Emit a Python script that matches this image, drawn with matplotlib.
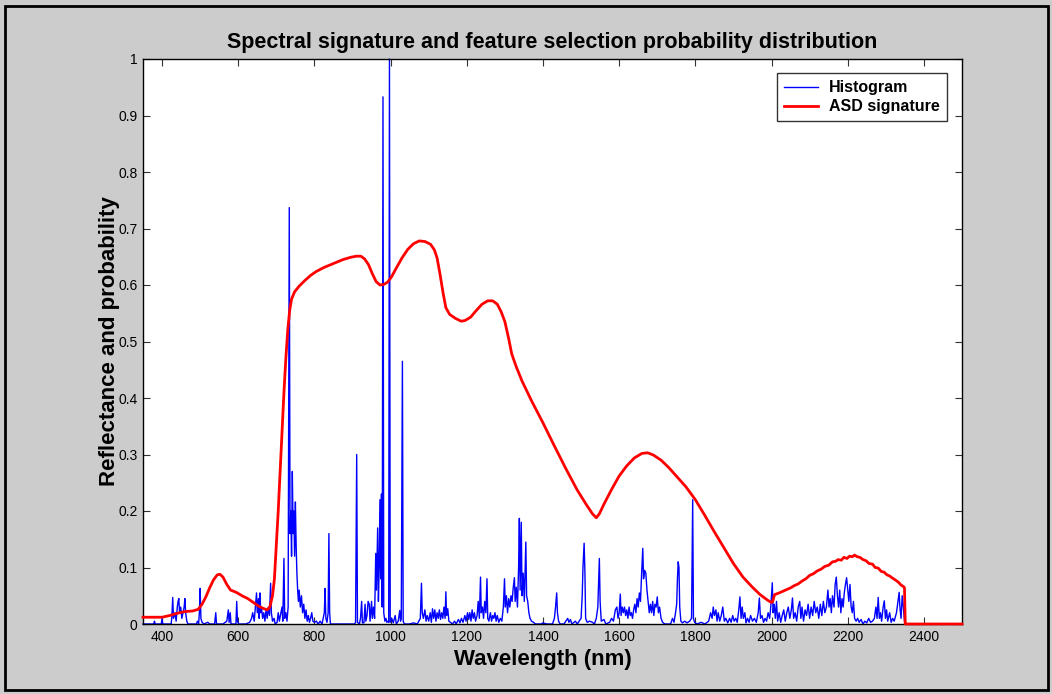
import matplotlib
matplotlib.use("Agg")
import matplotlib.pyplot as plt
from matplotlib.patches import Rectangle

plt.rcParams['font.family'] = ['Liberation Sans', 'DejaVu Sans']

# ---------------- data ----------------
title = "Spectral signature and feature selection probability distribution"
xlabel = "Wavelength (nm)"
ylabel = "Reflectance and probability"
legend_labels = ["Histogram", "ASD signature"]
xticks = [400, 600, 800, 1000, 1200, 1400, 1600, 1800, 2000, 2200, 2400]
yticks = [0, 0.1, 0.2, 0.3, 0.4, 0.5, 0.6, 0.7, 0.8, 0.9, 1]
ytick_labels = ["0", "0.1", "0.2", "0.3", "0.4", "0.5", "0.6", "0.7", "0.8", "0.9", "1"]

# ASD reflectance signature (wavelength nm, reflectance)
asd_points = [
    (350, 0.012), (380, 0.012), (400, 0.012), (420, 0.015), (440, 0.019), (460, 0.022),
    (480, 0.023), (495, 0.026), (505, 0.035), (515, 0.048), (525, 0.064), (535, 0.078),
    (545, 0.087), (552, 0.088), (560, 0.083), (570, 0.070), (580, 0.060), (595, 0.056),
    (610, 0.050), (625, 0.045), (640, 0.038), (655, 0.031), (668, 0.027), (676, 0.025),
    (683, 0.030), (690, 0.050), (695, 0.080), (700, 0.140), (705, 0.200), (710, 0.270),
    (715, 0.340), (720, 0.410), (725, 0.470), (730, 0.520), (735, 0.555), (740, 0.575),
    (748, 0.588), (760, 0.598), (775, 0.608), (790, 0.617), (805, 0.624), (825, 0.631),
    (850, 0.638), (875, 0.645), (895, 0.649), (910, 0.651), (922, 0.651), (932, 0.646),
    (942, 0.636), (952, 0.620), (962, 0.606), (972, 0.600), (982, 0.601), (992, 0.605),
    (1002, 0.614), (1015, 0.630), (1030, 0.648), (1045, 0.663), (1060, 0.673),
    (1075, 0.678), (1090, 0.677), (1105, 0.672), (1115, 0.662), (1122, 0.648),
    (1130, 0.618), (1138, 0.585), (1145, 0.560), (1155, 0.548), (1170, 0.541),
    (1185, 0.536), (1195, 0.537), (1210, 0.543), (1225, 0.555), (1240, 0.566),
    (1255, 0.572), (1268, 0.572), (1280, 0.566), (1290, 0.553), (1300, 0.535),
    (1310, 0.505), (1318, 0.478), (1330, 0.455), (1345, 0.430), (1370, 0.395),
    (1400, 0.356), (1430, 0.315), (1460, 0.275), (1490, 0.237), (1515, 0.210),
    (1530, 0.195), (1540, 0.188), (1548, 0.195), (1560, 0.212), (1580, 0.238),
    (1600, 0.262), (1620, 0.280), (1640, 0.294), (1660, 0.302), (1675, 0.303),
    (1690, 0.299), (1710, 0.290), (1730, 0.277), (1750, 0.262), (1775, 0.243),
    (1800, 0.220), (1825, 0.192), (1850, 0.163), (1875, 0.135), (1900, 0.107),
    (1925, 0.083), (1950, 0.065), (1970, 0.052), (1990, 0.042), (2000, 0.038),
    (2003, 0.040), (2008, 0.052), (2020, 0.055), (2030, 0.058), (2040, 0.061),
    (2050, 0.064), (2060, 0.068), (2070, 0.071), (2080, 0.076), (2090, 0.080),
    (2100, 0.086), (2110, 0.089), (2120, 0.094), (2130, 0.097), (2140, 0.102),
    (2150, 0.104), (2160, 0.110), (2168, 0.111), (2175, 0.114), (2183, 0.113),
    (2190, 0.118), (2198, 0.116), (2205, 0.120), (2212, 0.119), (2218, 0.122),
    (2225, 0.119), (2232, 0.118), (2240, 0.114), (2248, 0.112), (2256, 0.107),
    (2265, 0.106), (2272, 0.100), (2280, 0.099), (2288, 0.093), (2295, 0.092),
    (2303, 0.087), (2310, 0.085), (2318, 0.081), (2325, 0.078), (2333, 0.074),
    (2340, 0.069), (2347, 0.066), (2349, 0.064), (2351, 0.0), (2500, 0.0),
]

# Feature selection probability histogram (wavelength nm, probability)
hist_points = [
    (350, 0), (378, 0), (380, 0.005), (382, 0), (398, 0), (400, 0.01), (402, 0), (420, 0),
    (424, 0), (426, 0.015), (428, 0.047), (430, 0.01), (434, 0.02), (437, 0.005),
    (440, 0.03), (442, 0.04), (444, 0.045), (446, 0.02), (449, 0.03), (452, 0.01),
    (455, 0.02), (458, 0.03), (460, 0.045), (462, 0.02), (465, 0.005), (468, 0),
    (490, 0), (493, 0.005), (496, 0), (498, 0.02), (500, 0.063), (502, 0.01), (505, 0.003),
    (510, 0), (520, 0.003), (525, 0), (538, 0), (541, 0.02), (543, 0), (560, 0),
    (570, 0.005), (574, 0.025), (576, 0.003), (579, 0.02), (581, 0), (594, 0), (596, 0.04),
    (598, 0.005), (601, 0), (620, 0), (630, 0.003), (635, 0.01), (638, 0.02), (642, 0.005),
    (645, 0.03), (648, 0.055), (650, 0.02), (653, 0.045), (655, 0.01), (657, 0.055),
    (659, 0.02), (661, 0.03), (664, 0.01), (667, 0.02), (670, 0.005), (673, 0.025),
    (676, 0.01), (679, 0.03), (682, 0.015), (685, 0.072), (687, 0.02), (690, 0.005),
    (694, 0.01), (697, 0), (702, 0.003), (705, 0.02), (708, 0.005), (712, 0.02),
    (715, 0.03), (717, 0.005), (720, 0.116), (722, 0.01), (725, 0.02), (728, 0.005),
    (731, 0.03), (734, 0.737), (736, 0.16), (738, 0.2), (740, 0.12), (742, 0.27),
    (744, 0.16), (746, 0.2), (748, 0.12), (750, 0.216), (752, 0.14), (754, 0.09),
    (756, 0.06), (758, 0.04), (760, 0.06), (763, 0.03), (766, 0.05), (769, 0.02),
    (772, 0.035), (775, 0.01), (778, 0.025), (781, 0.005), (784, 0.015), (787, 0.003),
    (790, 0.01), (793, 0.02), (796, 0.005), (800, 0.003), (805, 0.005), (810, 0),
    (815, 0.005), (820, 0), (826, 0.02), (828, 0.063), (830, 0.01), (833, 0.003),
    (836, 0.02), (838, 0.16), (840, 0.02), (842, 0), (905, 0), (908, 0.003), (911, 0.3),
    (913, 0.003), (918, 0), (921, 0.01), (924, 0.04), (926, 0.002), (930, 0.002),
    (933, 0.035), (935, 0.005), (938, 0.015), (941, 0.04), (944, 0.035), (946, 0.005),
    (950, 0.04), (952, 0.01), (955, 0.03), (958, 0.01), (961, 0.125), (963, 0.06),
    (966, 0.17), (968, 0.04), (970, 0.1), (972, 0.22), (974, 0.08), (976, 0.23),
    (978, 0.03), (980, 0.933), (982, 0.02), (985, 0.005), (988, 0.01), (990, 0.003),
    (993, 0.005), (995, 0.003), (997, 1.0), (999, 0.003), (1003, 0.01), (1007, 0.002),
    (1012, 0.015), (1015, 0), (1020, 0.005), (1024, 0.024), (1026, 0.005), (1028, 0.01),
    (1031, 0.465), (1033, 0.005), (1036, 0), (1050, 0), (1060, 0.002), (1070, 0),
    (1078, 0.01), (1081, 0.072), (1083, 0.02), (1086, 0.01), (1090, 0.025), (1093, 0.005),
    (1096, 0.015), (1100, 0.005), (1104, 0.02), (1107, 0.003), (1110, 0.027),
    (1113, 0.01), (1116, 0.025), (1119, 0.005), (1122, 0.02), (1125, 0.01), (1128, 0.025),
    (1131, 0.008), (1134, 0.02), (1137, 0.01), (1140, 0.03), (1143, 0.01), (1145, 0.057),
    (1147, 0.015), (1150, 0.027), (1153, 0.005), (1157, 0.003), (1162, 0), (1168, 0.005),
    (1172, 0), (1178, 0.008), (1182, 0.002), (1186, 0.01), (1190, 0.003), (1195, 0.015),
    (1198, 0.005), (1202, 0.02), (1205, 0.008), (1208, 0.02), (1211, 0.005),
    (1214, 0.025), (1217, 0.01), (1220, 0.02), (1223, 0.005), (1227, 0.015), (1230, 0.04),
    (1233, 0.01), (1236, 0.083), (1238, 0.02), (1241, 0.03), (1244, 0.01), (1247, 0.04),
    (1250, 0.02), (1253, 0.08), (1255, 0.01), (1258, 0.005), (1262, 0.02), (1265, 0.005),
    (1268, 0.015), (1271, 0.01), (1274, 0.02), (1277, 0.005), (1280, 0.015),
    (1284, 0.003), (1288, 0.01), (1292, 0.005), (1296, 0.03), (1299, 0.08), (1301, 0.03),
    (1304, 0.05), (1307, 0.02), (1310, 0.045), (1313, 0.03), (1316, 0.05), (1319, 0.04),
    (1322, 0.065), (1325, 0.082), (1327, 0.04), (1330, 0.065), (1333, 0.03), (1336, 0.1),
    (1338, 0.187), (1340, 0.06), (1343, 0.18), (1345, 0.05), (1348, 0.09), (1351, 0.04),
    (1355, 0.145), (1357, 0.05), (1360, 0.04), (1363, 0.02), (1366, 0.01), (1370, 0.005),
    (1375, 0.003), (1380, 0), (1395, 0), (1400, 0.002), (1410, 0), (1425, 0),
    (1430, 0.01), (1433, 0.03), (1436, 0.055), (1438, 0.02), (1441, 0.005), (1445, 0),
    (1455, 0), (1460, 0.005), (1465, 0.01), (1468, 0.003), (1472, 0.008), (1476, 0),
    (1485, 0.005), (1490, 0), (1500, 0.01), (1503, 0.05), (1505, 0.1), (1508, 0.143),
    (1510, 0.095), (1512, 0.01), (1516, 0.003), (1522, 0.005), (1530, 0.003), (1535, 0),
    (1540, 0.01), (1544, 0.03), (1548, 0.116), (1550, 0.04), (1553, 0.005),
    (1560, 0.008), (1565, 0), (1575, 0.003), (1580, 0.01), (1585, 0.005), (1590, 0.025),
    (1594, 0.03), (1597, 0.01), (1600, 0.02), (1603, 0.053), (1605, 0.015), (1608, 0.03),
    (1611, 0.02), (1614, 0.03), (1617, 0.015), (1620, 0.025), (1623, 0.01), (1626, 0.03),
    (1629, 0.015), (1632, 0.02), (1635, 0.01), (1638, 0.025), (1641, 0.035),
    (1644, 0.02), (1647, 0.045), (1650, 0.03), (1653, 0.055), (1656, 0.04), (1659, 0.09),
    (1662, 0.134), (1664, 0.08), (1667, 0.095), (1670, 0.09), (1673, 0.06), (1676, 0.04),
    (1679, 0.02), (1682, 0.035), (1685, 0.02), (1688, 0.04), (1691, 0.015),
    (1694, 0.035), (1697, 0.03), (1700, 0.048), (1703, 0.02), (1706, 0.03), (1710, 0.01),
    (1714, 0.003), (1720, 0), (1735, 0), (1740, 0.01), (1744, 0.003), (1748, 0.02),
    (1751, 0.035), (1753, 0.08), (1755, 0.11), (1757, 0.1), (1759, 0.03), (1762, 0.005),
    (1766, 0.002), (1772, 0.005), (1778, 0.002), (1785, 0.005), (1790, 0.01),
    (1793, 0.22), (1795, 0.01), (1798, 0.003), (1805, 0), (1815, 0.003), (1825, 0),
    (1835, 0.005), (1840, 0.02), (1844, 0.01), (1847, 0.03), (1850, 0.015),
    (1854, 0.025), (1857, 0.005), (1860, 0.02), (1864, 0.005), (1868, 0.015),
    (1872, 0.03), (1876, 0.005), (1880, 0.01), (1885, 0.002), (1890, 0.01),
    (1894, 0.003), (1898, 0.015), (1902, 0.005), (1906, 0.01), (1910, 0.003),
    (1914, 0.025), (1917, 0.048), (1920, 0.01), (1923, 0.03), (1926, 0.01), (1930, 0.02),
    (1933, 0.002), (1937, 0.01), (1941, 0.003), (1945, 0.015), (1950, 0.005),
    (1955, 0.01), (1960, 0.003), (1965, 0.02), (1968, 0.046), (1971, 0.01),
    (1975, 0.015), (1979, 0.003), (1983, 0.01), (1987, 0.005), (1991, 0.02), (1995, 0.01),
    (1998, 0.03), (2002, 0.073), (2004, 0.02), (2007, 0.035), (2010, 0.01), (2013, 0.04),
    (2016, 0.005), (2020, 0.02), (2024, 0.003), (2028, 0.015), (2032, 0.025),
    (2036, 0.005), (2040, 0.02), (2044, 0.03), (2048, 0.01), (2052, 0.025),
    (2055, 0.046), (2058, 0.01), (2062, 0.02), (2066, 0.005), (2070, 0.03), (2074, 0.04),
    (2077, 0.01), (2080, 0.03), (2084, 0.005), (2088, 0.025), (2092, 0.015),
    (2096, 0.035), (2100, 0.01), (2104, 0.03), (2108, 0.015), (2112, 0.04), (2116, 0.02),
    (2120, 0.03), (2124, 0.01), (2128, 0.035), (2132, 0.015), (2136, 0.04), (2140, 0.02),
    (2144, 0.03), (2148, 0.06), (2151, 0.03), (2154, 0.045), (2157, 0.02), (2160, 0.05),
    (2164, 0.03), (2167, 0.07), (2170, 0.083), (2173, 0.05), (2176, 0.03), (2179, 0.06),
    (2182, 0.02), (2185, 0.045), (2188, 0.03), (2191, 0.055), (2194, 0.07),
    (2197, 0.082), (2200, 0.06), (2203, 0.04), (2206, 0.07), (2209, 0.03), (2212, 0.02),
    (2215, 0.04), (2218, 0.01), (2222, 0.005), (2226, 0.01), (2230, 0.003),
    (2235, 0.008), (2240, 0), (2245, 0.005), (2250, 0.002), (2255, 0.01), (2260, 0.003),
    (2265, 0.005), (2270, 0.01), (2274, 0.03), (2277, 0.01), (2280, 0.047), (2283, 0.01),
    (2286, 0.02), (2289, 0.005), (2293, 0.03), (2296, 0.041), (2299, 0.01),
    (2302, 0.025), (2305, 0.005), (2310, 0.02), (2314, 0.003), (2318, 0.01),
    (2322, 0.005), (2328, 0.02), (2332, 0.04), (2335, 0.056), (2337, 0.03), (2340, 0.01),
    (2343, 0.05), (2346, 0.03), (2349, 0.005), (2350, 0), (2500, 0),
]

asd_nm = [p[0] for p in asd_points]
asd_val = [p[1] for p in asd_points]
hist_nm = [p[0] for p in hist_points]
hist_val = [p[1] for p in hist_points]

# ---------------- figure ----------------
W, H = 1052, 694
fig = plt.figure(figsize=(W / 100, H / 100), dpi=100, facecolor='#cccccc')
fig.patches.append(Rectangle((5 / W, 4 / H), (W - 9) / W, (H - 10) / H,
                             transform=fig.transFigure, fill=False,
                             edgecolor='black', linewidth=2))

ax = fig.add_axes([143 / W, 1 - 624 / H, (962 - 143) / W, (624 - 59) / H])
ax.set_facecolor('white')

ax.plot(hist_nm, hist_val, color='#0000ff', linewidth=1.0, label=legend_labels[0],
        clip_on=False, zorder=2)
ax.plot(asd_nm, asd_val, color='#ff0000', linewidth=2.0, label=legend_labels[1],
        clip_on=False, zorder=3)

ax.set_xlim(350, 2500)
ax.set_ylim(0, 1)
ax.set_xticks(xticks)
ax.set_xticklabels([str(t) for t in xticks])
ax.set_yticks(yticks)
ax.set_yticklabels(ytick_labels)
ax.tick_params(direction='in', length=5, width=0.8, color='#333333',
               top=True, right=True, labelsize=10, pad=4)
for s in ax.spines.values():
    s.set_linewidth(1.0)
    s.set_color('black')

ax.set_title(title, fontsize=15.5, fontweight='bold', pad=8)
ax.set_xlabel(xlabel, fontsize=16, fontweight='bold')
ax.xaxis.set_label_coords(0.488, -0.045)
ax.set_ylabel(ylabel, fontsize=16, fontweight='bold', labelpad=-1.5)

leg = ax.legend(loc='upper right', bbox_to_anchor=(947 / W, 1 - 73 / H),
                bbox_transform=fig.transFigure, frameon=True, fancybox=False,
                edgecolor='black', prop={'weight': 'bold', 'size': 11.5},
                handlelength=2.1, borderpad=0.45, labelspacing=0.25, borderaxespad=0,
                handletextpad=0.7)
leg.get_frame().set_linewidth(1.0)
leg.get_lines()[0].set_linewidth(1.0)
leg.get_lines()[1].set_linewidth(2.0)

fig.savefig('out.png', dpi=100, facecolor=fig.get_facecolor())
